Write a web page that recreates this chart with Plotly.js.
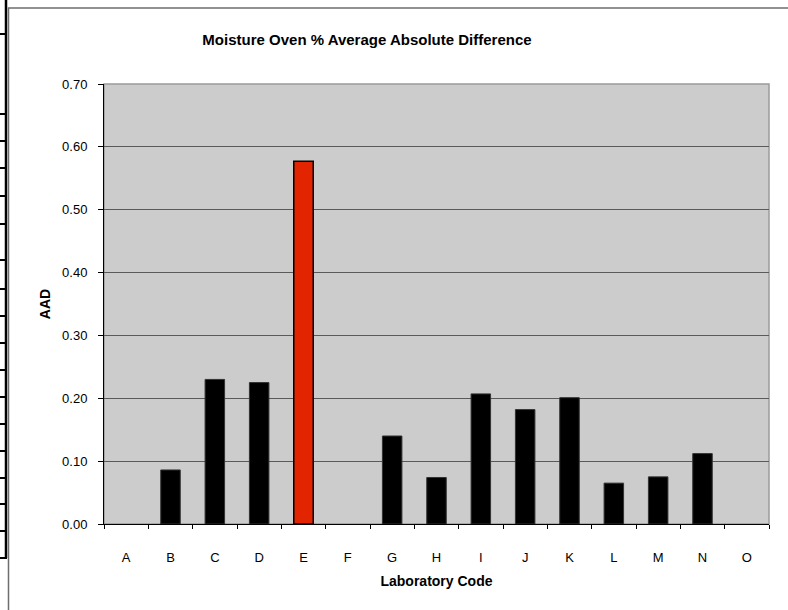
<!DOCTYPE html>
<html>
<head>
<meta charset="utf-8">
<script src="https://cdn.plot.ly/plotly-3.0.1.min.js"></script>
<style>html,body{margin:0;padding:0;background:#fff;}#chart{width:788px;height:610px;}</style>
</head>
<body>
<div id="chart"></div>
<script>
const labs = ["A","B","C","D","E","F","G","H","I","J","K","L","M","N","O"];
const aad = [0, 0.086, 0.230, 0.225, 0.577, 0, 0.140, 0.074, 0.207, 0.182, 0.201, 0.065, 0.075, 0.112, 0];
const highlightLab = "E";
const barColor = "#000000";
const highlightColor = "#e32400";
const stripLines = [34, 114, 141, 168, 196, 224, 260, 289, 316, 343, 370, 397, 424, 451, 478, 504, 531, 558];

const W = 788, H = 610;
const M = {l: 104, r: 19, t: 84, b: 86};
const pw = W - M.l - M.r, ph = H - M.t - M.b;
const px = x => (x - M.l) / pw;
const py = y => (H - M.b - y) / ph;

const shapes = [];
// spreadsheet cell borders at far left
shapes.push({type:'line', xref:'paper', yref:'paper', x0:px(6), x1:px(6), y0:py(0), y1:py(558), line:{color:'#000', width:2.5}});
stripLines.forEach(y => shapes.push({type:'line', xref:'paper', yref:'paper', x0:px(0), x1:px(7), y0:py(y), y1:py(y), line:{color:'#000', width:2}}));
// chart area border
shapes.push({type:'path', xref:'paper', yref:'paper', path:`M ${px(8.5)} ${py(612)} L ${px(8.5)} ${py(8)} L ${px(790)} ${py(8)}`, line:{color:'#6e6e6e', width:1.5}});
// plot area border (gray)
shapes.push({type:'rect', xref:'paper', yref:'paper', x0:0, x1:1, y0:0, y1:1, line:{color:'#9a9a9a', width:1.5}, layer:'below'});

const trace = {
  type: 'bar',
  x: labs,
  y: aad,
  marker: {
    color: labs.map(l => l === highlightLab ? highlightColor : barColor),
    line: {
      color: labs.map(l => l === highlightLab ? '#000' : '#333'),
      width: aad.map((v, i) => v === 0 ? 0 : (labs[i] === highlightLab ? 1.5 : 1))
    }
  },
  hoverinfo: 'x+y'
};

const font = {family: 'Arial, "Liberation Sans", sans-serif', color: '#000'};

const layout = {
  width: W, height: H,
  margin: M,
  paper_bgcolor: '#ffffff',
  plot_bgcolor: '#cccccc',
  showlegend: false,
  bargap: 0.56,
  font: Object.assign({size: 13}, font),
  title: {
    text: '<b>Moisture Oven % Average Absolute Difference</b>',
    font: Object.assign({size: 15}, font),
    x: 367 / W, xref: 'container', xanchor: 'center',
    y: 1 - 40 / H, yref: 'container', yanchor: 'middle'
  },
  xaxis: {
    type: 'category',
    tickson: 'boundaries',
    ticks: 'outside', ticklen: 4, tickcolor: '#000', tickwidth: 1,
    showline: true, linecolor: '#000', linewidth: 1,
    showgrid: false,
    ticklabelstandoff: 21,
    tickfont: Object.assign({size: 13}, font),
    title: {text: '<b>Laboratory Code</b>', font: Object.assign({size: 14}, font), standoff: 12},
    fixedrange: true
  },
  yaxis: {
    range: [0, 0.7],
    dtick: 0.1,
    tick0: 0,
    tickformat: '.2f',
    ticks: 'outside', ticklen: 5, tickcolor: '#000', tickwidth: 1,
    showline: true, linecolor: '#000', linewidth: 1,
    showgrid: true, gridcolor: '#5a5a5a', gridwidth: 1,
    zeroline: false,
    ticklabelstandoff: 8,
    tickfont: Object.assign({size: 13}, font),
    title: {text: '<b>AAD</b>', font: Object.assign({size: 14}, font), standoff: 8},
    fixedrange: true
  },
  shapes: shapes
};

Plotly.newPlot('chart', [trace], layout, {displayModeBar: false, staticPlot: true});
</script>
</body>
</html>
